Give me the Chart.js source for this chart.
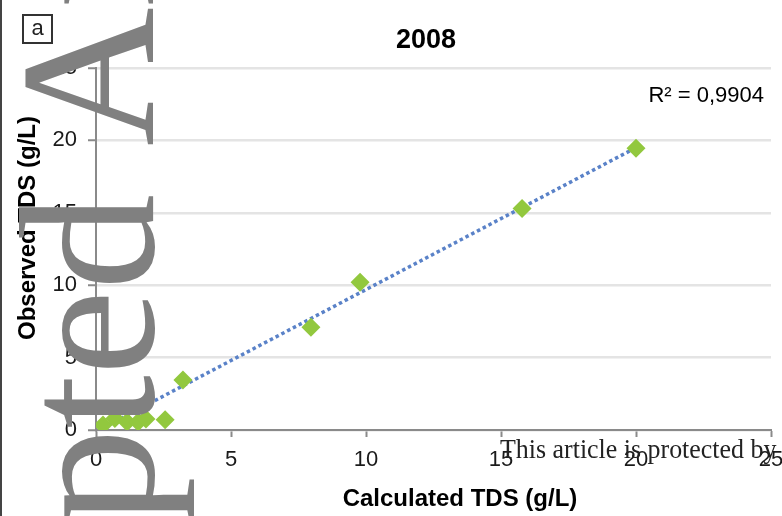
<!DOCTYPE html>
<html>
<head>
<meta charset="utf-8">
<script src="https://cdn.jsdelivr.net/npm/chart.js@4"></script>
<style>
    html, body { margin: 0; padding: 0; background: #fff; }
    #tdsChart { display: block; }
</style>
</head>
<body>
<canvas id="tdsChart" width="782" height="516"></canvas>
<script>
// values
var calculatedTDS = [0.26, 0.7, 1.15, 1.56, 1.85, 2.56, 3.22, 7.96, 9.78, 15.78, 20.0];
var observedTDS   = [0.34, 0.8, 0.55, 0.55, 0.76, 0.7, 3.45, 7.1, 10.2, 15.3, 19.45];

// linear trendline end points (as drawn in the picture)
var trendX = [0.26, 20.0];
var trendY = [0.15, 19.5];

var axisTicks = [0, 5, 10, 15, 20, 25];

var chartTitle = '2008';
var rSquaredLabel = 'R\u00b2 = 0,9904';
var xTitle = 'Calculated TDS (g/L)';
var yTitle = 'Observed TDS (g/L)';
var panelLetter = 'a';
var watermarkSide = 'Accepted Article';
var watermarkLead = 'Accepted';
var watermarkBottom = 'This article is protected by';

document.addEventListener('DOMContentLoaded', function () {

    var sans = '"Liberation Sans", Arial, sans-serif';
    var serif = '"Liberation Serif", "Times New Roman", serif';

    var points = calculatedTDS.map(function (x, i) { return { x: x, y: observedTDS[i] }; });
    var trend = trendX.map(function (x, i) { return { x: x, y: trendY[i] }; });

    var extras = {
        id: 'extras',
        afterDraw: function (chart) {
            var ctx = chart.ctx;
            ctx.save();

            // left frame line
            ctx.fillStyle = '#444';
            ctx.fillRect(0, 0, 2, 516);

            // panel letter box
            ctx.strokeStyle = '#333';
            ctx.lineWidth = 2;
            ctx.strokeRect(23, 15, 29, 28);
            ctx.fillStyle = '#222';
            ctx.font = '22px ' + sans;
            ctx.textAlign = 'center';
            ctx.textBaseline = 'middle';
            ctx.fillText(panelLetter, 37.5, 29);

            // title
            ctx.fillStyle = '#000';
            ctx.font = 'bold 27px ' + sans;
            ctx.fillText(chartTitle, 426, 41);

            // R squared
            ctx.font = '22px ' + sans;
            ctx.textAlign = 'right';
            ctx.fillText(rSquaredLabel, 764, 96);

            // axis titles
            ctx.font = 'bold 24px ' + sans;
            ctx.textAlign = 'center';
            ctx.fillText(xTitle, 460, 499);
            ctx.save();
            ctx.translate(28, 228);
            ctx.rotate(-Math.PI / 2);
            ctx.fillText(yTitle, 0, 0);
            ctx.restore();

            // watermark, vertical
            ctx.fillStyle = '#808080';
            ctx.font = '192px ' + serif;
            ctx.textAlign = 'left';
            ctx.textBaseline = 'alphabetic';
            var lead = ctx.measureText(watermarkLead).width;
            ctx.save();
            ctx.translate(153, 194 + lead);
            ctx.rotate(-Math.PI / 2);
            ctx.fillText(watermarkSide, 0, 0);
            ctx.restore();

            // watermark, bottom line (narrow serif)
            ctx.fillStyle = '#222';
            ctx.font = '27px ' + serif;
            ctx.save();
            ctx.translate(500, 458);
            ctx.scale(0.96, 1);
            ctx.fillText(watermarkBottom, 0, 0);
            ctx.restore();

            ctx.restore();
        }
    };

    var ctx = document.getElementById('tdsChart').getContext('2d');
    var tdsChart = new Chart(ctx, {
        type: 'scatter',
        data: {
            datasets: [{
                label: 'TDS',
                data: points,
                pointStyle: 'rectRot',
                pointRadius: 9.5,
                pointHoverRadius: 9.5,
                pointBackgroundColor: '#92c83e',
                pointBorderColor: '#92c83e',
                pointBorderWidth: 0
            }, {
                label: 'Linear',
                data: trend,
                showLine: true,
                pointRadius: 0,
                borderColor: '#5a82c8',
                borderWidth: 3.5,
                borderDash: [3.5, 3],
                fill: false
            }]
        },
        options: {
            responsive: false,
            animation: false,
            layout: {
                padding: { left: 0, top: 68, right: 11, bottom: 0 }
            },
            plugins: {
                legend: { display: false },
                tooltip: { enabled: false },
                title: { display: false }
            },
            scales: {
                x: {
                    type: 'linear',
                    min: axisTicks[0],
                    max: axisTicks[axisTicks.length - 1],
                    afterFit: function (scale) {
                        scale.height = 86;
                        scale.paddingLeft = 0;
                        scale.paddingRight = 0;
                    },
                    ticks: {
                        stepSize: axisTicks[1] - axisTicks[0],
                        color: '#1a1a1a',
                        font: { family: sans, size: 22 },
                        padding: 10,
                        maxRotation: 0
                    },
                    grid: {
                        drawOnChartArea: false,
                        drawTicks: true,
                        tickLength: 7,
                        tickWidth: 2,
                        tickColor: '#8a8a8a'
                    },
                    border: { color: '#8a8a8a', width: 2 }
                },
                y: {
                    type: 'linear',
                    min: axisTicks[0],
                    max: axisTicks[axisTicks.length - 1],
                    afterFit: function (scale) {
                        scale.width = 96;
                        scale.paddingTop = 0;
                        scale.paddingBottom = 0;
                    },
                    ticks: {
                        stepSize: axisTicks[1] - axisTicks[0],
                        color: '#1a1a1a',
                        font: { family: sans, size: 22 },
                        padding: 11
                    },
                    grid: {
                        color: '#e4e4e4',
                        lineWidth: 2.5,
                        drawTicks: true,
                        tickLength: 8,
                        tickWidth: 2,
                        tickColor: '#8a8a8a'
                    },
                    border: { color: '#8a8a8a', width: 2 }
                }
            }
        },
        plugins: [extras]
    });
});
</script>
</body>
</html>
